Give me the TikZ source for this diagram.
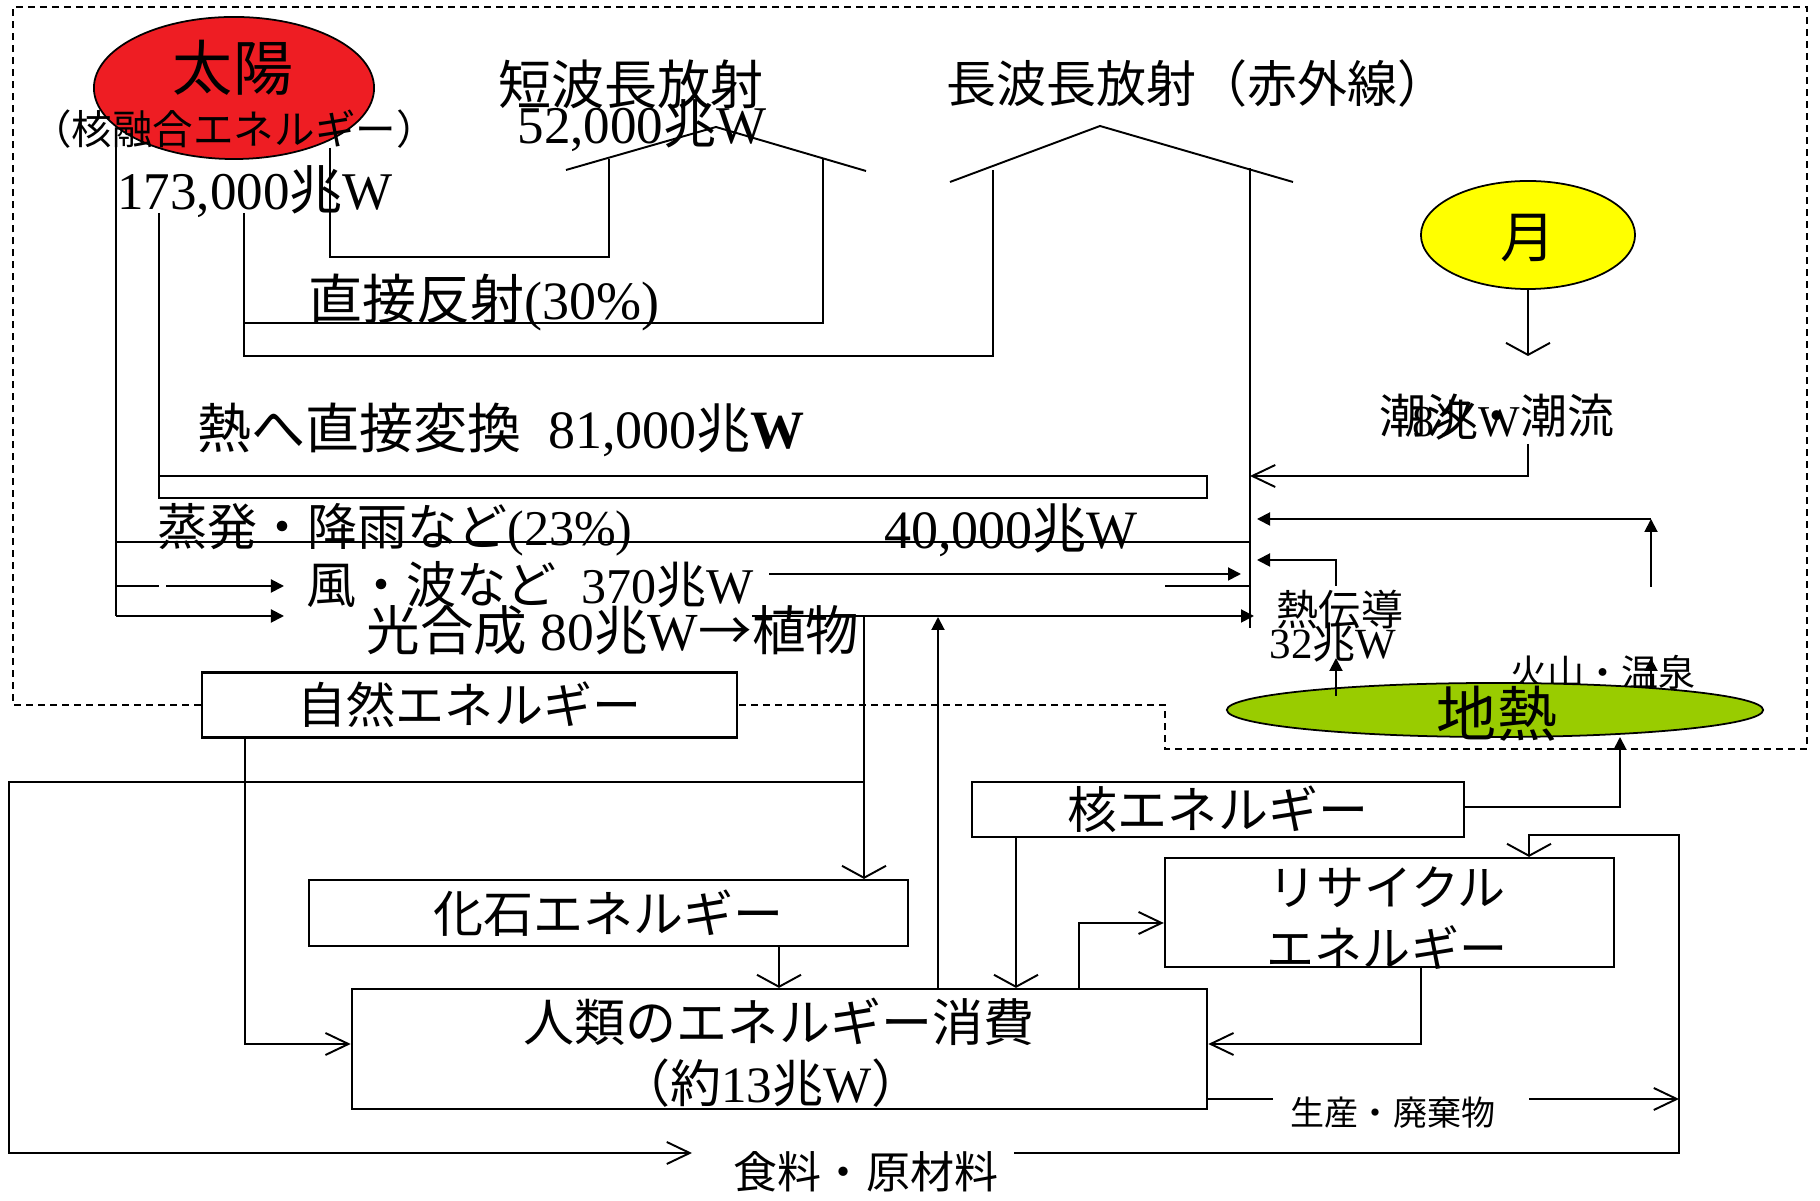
\documentclass[tikz,border=0pt]{standalone}
\usepackage{fontspec}
\setmainfont{Liberation Serif}
\newfontfamily\J{Noto Sans CJK JP}
\usetikzlibrary{arrows.meta,shapes.geometric}
\newcommand\fz[1]{\fontsize{#1mm}{#1mm}\selectfont}
\definecolor{sunred}{RGB}{238,29,35}
\definecolor{moonyel}{RGB}{255,255,0}
\definecolor{geogreen}{RGB}{153,204,0}
\begin{document}
\begin{tikzpicture}[x=0.01cm,y=-0.01cm,line width=0.55pt,
  dsh/.style={dash pattern=on 0.07cm off 0.05cm,line width=0.4pt},
  box/.style={draw,line width=0.6pt,inner sep=0pt,anchor=center,align=center},
  lbl/.style={inner sep=0pt,anchor=center},
  ell/.style={draw,ellipse,inner sep=0pt,line width=0.5pt},
  vV/.style={-{Straight Barb[length=0.12cm,width=0.44cm]}},
  hV/.style={-{Straight Barb[length=0.23cm,width=0.22cm]}},
  tri/.style={-{Triangle[length=0.13cm,width=0.13cm]}}]
\useasboundingbox (0,0) rectangle (1820,1201);

% ---- boxes ----
\node[box,minimum width=5.35cm,minimum height=0.65cm,font=\fz{4.9}\J] (shizen) at (469.5,705) {自然エネルギー};
\node[box,minimum width=5.99cm,minimum height=0.66cm,font=\fz{5}\J] (kaseki) at (608.5,913) {化石エネルギー};
\node[box,minimum width=8.55cm,minimum height=1.2cm] (jinrui) at (779.5,1049) {};
\node[lbl,font=\fz{5.1}\J] (jinrui1) at (779,1022) {人類のエネルギー消費};
\node[lbl,font=\fz{5.1}] (jinrui2) at (771,1083) {{\J （約}13{\J 兆}W{\J ）}};
\node[box,minimum width=4.92cm,minimum height=0.55cm,font=\fz{5}\J] (kaku) at (1218,809.5) {核エネルギー};
\node[box,minimum width=4.49cm,minimum height=1.09cm] (recycle) at (1389.5,912.5) {};
\node[lbl,font=\fz{4.8}\J] (recycle1) at (1387,887) {リサイクル};
\node[lbl,font=\fz{4.8}\J] (recycle2) at (1387,948) {エネルギー};

% ---- dashed frame ----
\draw[dsh] (shizen.west) -- (13,705) -- (13,7) -- (1807,7) -- (1807,749) -- (1165,749) -- (1165,705) -- (shizen.east);

% ---- sun ----
\node[ell,fill=sunred,minimum width=2.8cm,minimum height=1.42cm] (sun) at (234,88) {};
\node[lbl,font=\fz{6}\J] (taiyo) at (233,68) {太陽};
\node[lbl,font=\fz{4.05}\J] (kakuyugo) at (234,129) {（核融合エネルギー）};
\node[lbl,font=\fz{5.3}] (sunval) at (255,192) {173,000{\J 兆}W};

% ---- radiation roofs ----
\node[lbl,font=\fz{5.3}\J] (tanpa) at (631,84) {短波長放射};
\node[lbl,font=\fz{5.3}] (tanpaval) at (642,126) {52,000{\J 兆}W};
\node[lbl,font=\fz{5}\J] (choha) at (1197,84) {長波長放射（赤外線）};
\draw (566,170) -- (716,127) -- (866,171);
\draw (950,182) -- (1100,126) -- (1293,182);

% ---- flows from the sun ----
\draw (116,147) -- (116,616);
\draw (116,542) -- (1250,542);
\draw (116,586) -- (159,586);
\draw[tri] (166,586) -- (284,586);
\draw[tri] (116,616) -- (284,616);
\draw (159,213) -- (159,498) -- (1207,498) -- (1207,476) -- (159,476);
\draw (244,213) -- (244,356) -- (993,356) -- (993,170);
\draw (244,323) -- (823,323) -- (823,159);
\draw (330,148) -- (330,257) -- (609,257) -- (609,159);
\draw (1250,168) -- (1250,628);

\node[lbl,font=\fz{5.4}] (hansha) at (484,302) {{\J 直接反射}(30\%)};
\node[lbl,font=\fz{5.4}] (netsu) at (501,430) {{\J 熱へ直接変換}\ \ 81,000{\J 兆}\textbf{W}};
\node[lbl,font=\fz{5}] (johatsu) at (395,530) {{\J 蒸発・降雨など}(23\%)};
\node[lbl,font=\fz{5.4}] (v40000) at (1011,530) {40,000{\J 兆}W};
\node[lbl,font=\fz{5}] (kaze) at (530,585) {{\J 風・波など}\ \ 370{\J 兆}W};
\node[lbl,font=\fz{5.35}] (kogo) at (613,630) {{\J 光合成}\ 80{\J 兆}W{\J →植物}};

\draw[tri] (769,574) -- (1241,574);
\draw (1165,586) -- (1250,586);
\draw[tri] (752,616) -- (1254,616);

% ---- moon ----
\node[ell,fill=moonyel,minimum width=2.14cm,minimum height=1.08cm] (moon) at (1528,235) {};
\node[lbl,font=\fz{5.5}\J] (tsuki) at (1528,238) {月};
\draw[vV] (moon.south) -- (1528,356);
\node[lbl,font=\fz{4.7}\J] (chori) at (1497,416) {潮汐・潮流};
\node[lbl,font=\fz{4.4}] (v8) at (1466,420) {8{\J 兆}W};
\draw[hV] (1528,444) -- (1528,476) -- (1250,476);

% ---- geothermal ----
\node[lbl,font=\fz{3.7}\J] (kazan) at (1603,672) {火山・温泉};
\node[ell,fill=geogreen,minimum width=5.36cm,minimum height=0.54cm] (chinetsu) at (1495,710) {};
\node[lbl,font=\fz{6}\J] (chinetsut) at (1497,714) {地熱};
\node[lbl,font=\fz{4.2}\J] (dennetsu) at (1340,610) {熱伝導};
\node[lbl,font=\fz{4.3}] (v32) at (1333,643) {32{\J 兆}W};
\draw[tri] (1651,587) -- (1651,519);
\draw[tri] (1651,519) -- (1257,519);
\draw[tri] (1336,586) -- (1336,560) -- (1257,560);
\draw[tri] (1336,696) -- (1336,658);
\draw[tri] (1651,686) -- (1651,658);

% ---- lower flows ----
\draw[vV] (864,616) -- (kaseki.north -| 864,0);
\draw[hV] (864,782) -- (9,782) -- (9,1153) -- (692,1153);
\node[lbl,font=\fz{4.4}\J] (shokuryo) at (866,1172) {食料・原材料};
\draw[tri] (jinrui.north -| 938,0) -- (938,617);
\draw[hV] (shizen.south -| 245,0) -- (245,1044) -- (jinrui.west |- 0,1044);
\draw[vV] (kaseki.south -| 779,0) -- (jinrui.north -| 779,0);
\draw[vV] (kaku.south -| 1016,0) -- (jinrui.north -| 1016,0);
\draw[tri] (kaku.east |- 0,807) -- (1620,807) -- (1620,737);
\draw[hV] (jinrui.north -| 1079,0) -- (1079,923) -- (recycle.west |- 0,923);
\draw[hV] (recycle.south -| 1421,0) -- (1421,1044) -- (jinrui.east |- 0,1044);
\draw (jinrui.east |- 0,1099) -- (1273,1099);
\node[lbl,font=\fz{3.4}\J] (seisan) at (1393,1113) {生産・廃棄物};
\draw[hV] (1529,1099) -- (1679,1099);
\draw[vV] (1014,1153) -- (1679,1153) -- (1679,835) -- (1529,835) -- (recycle.north -| 1529,0);
\end{tikzpicture}
\end{document}
